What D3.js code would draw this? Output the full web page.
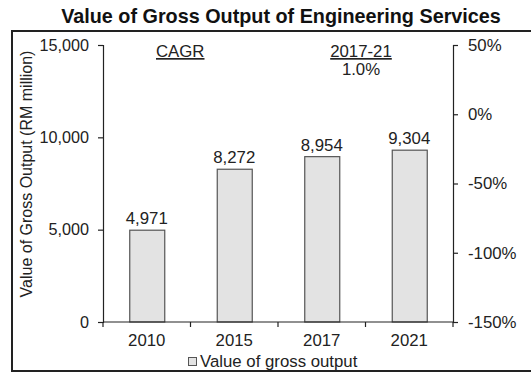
<!DOCTYPE html>
<html>
<head>
<meta charset="utf-8">
<script src="https://cdn.jsdelivr.net/npm/d3@7"></script>
<style>
  body { margin: 0; background: #fff; }
  svg { display: block; font-family: "Liberation Sans", Arial, sans-serif; }
</style>
</head>
<body>
<div id="chart"></div>
<script>
const years = ["2010", "2015", "2017", "2021"]
const grossOutput = [4971, 8272, 8954, 9304]
const leftTicks = [0, 5000, 10000, 15000]
const rightTicks = [-150, -100, -50, 0, 50]

const W = 531, H = 372
const plot = { left: 103, right: 453, top: 45, bottom: 322 }
const fs = "16.8px"

const svg = d3.select("#chart").append("svg")
  .attr("width", W)
  .attr("height", H)

// frame around the plot area
svg.append("rect")
  .attr("x", 12).attr("y", 31)
  .attr("width", W + 10).attr("height", 340)
  .attr("fill", "none")
  .attr("stroke", "#222")
  .attr("stroke-width", 2)

svg.append("text")
  .attr("x", 281).attr("y", 23)
  .attr("text-anchor", "middle")
  .attr("font-size", "19.8px")
  .attr("font-weight", "bold")
  .attr("fill", "#111")
  .text("Value of Gross Output of Engineering Services")

const x = d3.scaleBand()
  .domain(years)
  .range([plot.left, plot.right])
  .paddingInner(0.6)
  .paddingOuter(0.3)

const xb = d3.scaleBand().domain(years).range([plot.left, plot.right])

const y = d3.scaleLinear().domain([0, 15000]).range([plot.bottom, plot.top])
const y2 = d3.scaleLinear().domain([-150, 50]).range([plot.bottom, plot.top])

const fmt = d3.format(",")

// bars
svg.selectAll(".bar")
  .data(years)
  .enter()
  .append("rect")
  .attr("class", "bar")
  .attr("x", (d) => x(d) + 0.5)
  .attr("width", x.bandwidth())
  .attr("y", (d, i) => y(grossOutput[i]))
  .attr("height", (d, i) => plot.bottom - y(grossOutput[i]))
  .attr("fill", "#e3e3e3")
  .attr("stroke", "#555")
  .attr("stroke-width", 1.2)

svg.selectAll(".bar-label")
  .data(years)
  .enter()
  .append("text")
  .attr("class", "bar-label")
  .attr("x", (d) => x(d) + x.bandwidth() / 2)
  .attr("y", (d, i) => y(grossOutput[i]) - 6)
  .attr("text-anchor", "middle")
  .attr("font-size", fs)
  .attr("fill", "#222")
  .text((d, i) => fmt(grossOutput[i]))

// left axis
const gl = svg.append("g")
  .attr("transform", `translate(${plot.left},0)`)
  .call(d3.axisLeft(y).tickValues(leftTicks).tickFormat(fmt).tickSize(5).tickPadding(9))
gl.select(".domain").attr("stroke", "#222").attr("stroke-width", 1.2)
gl.selectAll(".tick line").attr("stroke", "#222").attr("stroke-width", 1.2)
gl.selectAll("text").attr("font-size", "16.2px").attr("fill", "#222").attr("font-family", null)

// right axis
const gr = svg.append("g")
  .attr("transform", `translate(${plot.right},0)`)
  .call(d3.axisRight(y2).tickValues(rightTicks).tickFormat((d) => d + "%").tickSize(5).tickPadding(10))
gr.select(".domain").attr("stroke", "#222").attr("stroke-width", 1.2)
gr.selectAll(".tick line").attr("stroke", "#222").attr("stroke-width", 1.2)
gr.selectAll("text").attr("font-size", fs).attr("fill", "#222").attr("font-family", null)

// bottom axis with ticks on category boundaries
const gb = svg.append("g")
  .attr("transform", `translate(0,${plot.bottom})`)
gb.append("line")
  .attr("x1", plot.left).attr("x2", plot.right)
  .attr("stroke", "#222").attr("stroke-width", 1.2)
gb.selectAll(".bt")
  .data(years.concat(["end"]))
  .enter()
  .append("line")
  .attr("x1", (d, i) => i < years.length ? xb(d) : plot.right)
  .attr("x2", (d, i) => i < years.length ? xb(d) : plot.right)
  .attr("y1", 0).attr("y2", 5)
  .attr("stroke", "#222").attr("stroke-width", 1.2)
gb.selectAll(".xl")
  .data(years)
  .enter()
  .append("text")
  .attr("x", (d) => xb(d) + xb.bandwidth() / 2)
  .attr("y", 24)
  .attr("text-anchor", "middle")
  .attr("font-size", fs)
  .attr("fill", "#222")
  .text((d) => d)

// y axis title
svg.append("text")
  .attr("transform", `translate(32,174) rotate(-90)`)
  .attr("text-anchor", "middle")
  .attr("font-size", "16px")
  .attr("fill", "#222")
  .text("Value of Gross Output (RM million)")

// CAGR annotation
svg.append("text")
  .attr("x", 156).attr("y", 57)
  .attr("font-size", fs)
  .attr("fill", "#222")
  .attr("text-decoration", "underline")
  .text("CAGR")
svg.append("text")
  .attr("x", 361).attr("y", 57)
  .attr("text-anchor", "middle")
  .attr("font-size", fs)
  .attr("fill", "#222")
  .attr("text-decoration", "underline")
  .text("2017-21")
svg.append("text")
  .attr("x", 361).attr("y", 75)
  .attr("text-anchor", "middle")
  .attr("font-size", fs)
  .attr("fill", "#222")
  .text("1.0%")

// legend
svg.append("rect")
  .attr("x", 188.5).attr("y", 357.5)
  .attr("width", 8).attr("height", 8)
  .attr("fill", "#e3e3e3")
  .attr("stroke", "#555")
svg.append("text")
  .attr("x", 200).attr("y", 367)
  .attr("font-size", fs)
  .attr("fill", "#222")
  .text("Value of gross output")
</script>
</body>
</html>
